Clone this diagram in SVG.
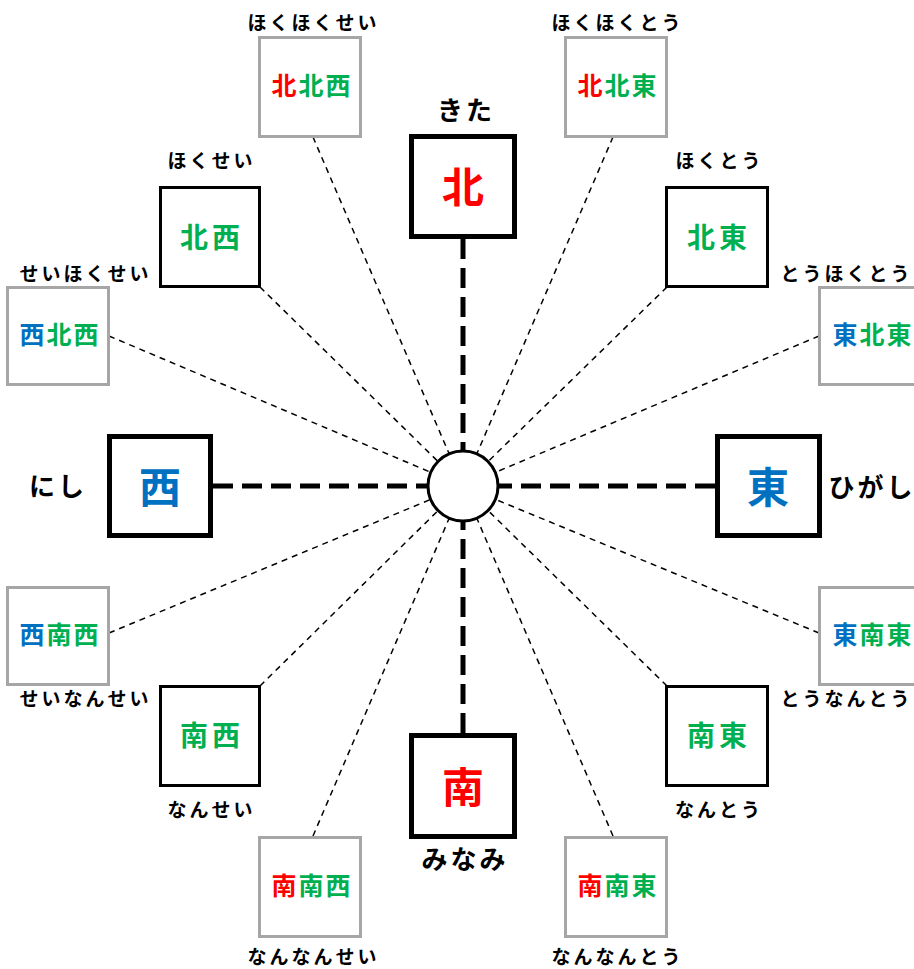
<svg xmlns="http://www.w3.org/2000/svg" width="914" height="969" viewBox="0 0 914 969">
<style>
text{font-family:"Noto Sans CJK JP","Noto Sans",sans-serif;font-weight:bold;text-anchor:middle;dominant-baseline:central}
.sm{font-size:19px;letter-spacing:3px;fill:#000}
.lg{font-size:26px;letter-spacing:3px;fill:#000}
.k3{font-size:25px;letter-spacing:2px}
.k2{font-size:28px;letter-spacing:4px}
.k1{font-size:42px}
.r{fill:#FF0000}.g{fill:#00B050}.b{fill:#0070C0}
.gray{fill:#fff;stroke:#A6A6A6;stroke-width:3}
.thin{fill:#fff;stroke:#000;stroke-width:3}
.card{fill:#fff;stroke:#000;stroke-width:5}
.dl{stroke:#000;stroke-width:1.5;stroke-dasharray:6 5;fill:none}
.tl{stroke:#000;stroke-width:5;stroke-dasharray:20 9;fill:none}
</style>
<rect width="914" height="969" fill="#fff"/>
<g id="connectors">
<line class="dl" x1="313" y1="137" x2="463" y2="486"/>
<line class="dl" x1="613" y1="137" x2="463" y2="486"/>
<line class="dl" x1="260" y1="287" x2="463" y2="486"/>
<line class="dl" x1="667" y1="287" x2="463" y2="486"/>
<line class="dl" x1="109" y1="336" x2="463" y2="486"/>
<line class="dl" x1="819" y1="336" x2="463" y2="486"/>
<line class="dl" x1="109" y1="633" x2="463" y2="486"/>
<line class="dl" x1="819" y1="633" x2="463" y2="486"/>
<line class="dl" x1="260" y1="686" x2="463" y2="486"/>
<line class="dl" x1="667" y1="686" x2="463" y2="486"/>
<line class="dl" x1="313" y1="836" x2="463" y2="486"/>
<line class="dl" x1="613" y1="836" x2="463" y2="486"/>
<line class="tl" x1="463" y1="239" x2="463" y2="486"/>
<line class="tl" x1="213" y1="486" x2="463" y2="486"/>
<line class="tl" x1="715" y1="486" x2="463" y2="486"/>
<line class="tl" x1="463" y1="733" x2="463" y2="486"/>
</g>
<g id="center"><circle cx="463" cy="486" r="35" fill="#fff" stroke="#000" stroke-width="3"/></g>
<g id="n">
<rect class="card" x="411.5" y="136.5" width="103" height="100"/>
<text class="k1 r" x="463" y="184">北</text>
<text class="lg" x="466" y="108">きた</text>
</g>
<g id="w">
<rect class="card" x="109.5" y="436.5" width="101" height="99"/>
<text class="k1 b" x="160" y="484">西</text>
<text class="lg" x="58" y="484">にし</text>
</g>
<g id="e">
<rect class="card" x="717.5" y="436.5" width="102" height="99"/>
<text class="k1 b" x="768" y="484">東</text>
<text class="lg" x="872" y="485">ひがし</text>
</g>
<g id="s">
<rect class="card" x="411.5" y="735.5" width="103" height="101"/>
<text class="k1 r" x="463" y="784">南</text>
<text class="lg" x="465" y="857">みなみ</text>
</g>
<g id="nw">
<rect class="thin" x="160.5" y="187.5" width="99" height="99"/>
<text class="k2 g" x="212" y="236">北西</text>
<text class="sm" x="211.5" y="159">ほくせい</text>
</g>
<g id="ne">
<rect class="thin" x="666.5" y="187.5" width="101" height="99"/>
<text class="k2 g" x="719" y="236">北東</text>
<text class="sm" x="719.5" y="159">ほくとう</text>
</g>
<g id="sw">
<rect class="thin" x="160.5" y="686.5" width="99" height="99"/>
<text class="k2 g" x="212" y="734">南西</text>
<text class="sm" x="211.5" y="808">なんせい</text>
</g>
<g id="se">
<rect class="thin" x="666.5" y="686.5" width="101" height="99"/>
<text class="k2 g" x="719" y="734">南東</text>
<text class="sm" x="719" y="808">なんとう</text>
</g>
<g id="nnw">
<rect class="gray" x="259.5" y="37.5" width="101" height="99"/>
<text class="k3" x="312" y="84"><tspan class="r">北</tspan><tspan class="g">北西</tspan></text>
<text class="sm" x="313.5" y="21">ほくほくせい</text>
</g>
<g id="nne">
<rect class="gray" x="565.5" y="37.5" width="101" height="99"/>
<text class="k3" x="618" y="84"><tspan class="r">北</tspan><tspan class="g">北東</tspan></text>
<text class="sm" x="617.5" y="21">ほくほくとう</text>
</g>
<g id="wnw">
<rect class="gray" x="7.5" y="287.5" width="101" height="97"/>
<text class="k3" x="60" y="333"><tspan class="b">西</tspan><tspan class="g">北西</tspan></text>
<text class="sm" x="85.5" y="272">せいほくせい</text>
</g>
<g id="ene">
<rect class="gray" x="819.5" y="287.5" width="101" height="97"/>
<text class="k3" x="873" y="333"><tspan class="b">東</tspan><tspan class="g">北東</tspan></text>
<text class="sm" x="846.5" y="272">とうほくとう</text>
</g>
<g id="wsw">
<rect class="gray" x="7.5" y="587.5" width="101" height="97"/>
<text class="k3" x="60" y="633"><tspan class="b">西</tspan><tspan class="g">南西</tspan></text>
<text class="sm" x="85.5" y="697">せいなんせい</text>
</g>
<g id="ese">
<rect class="gray" x="819.5" y="587.5" width="101" height="97"/>
<text class="k3" x="873" y="633"><tspan class="b">東</tspan><tspan class="g">南東</tspan></text>
<text class="sm" x="846.5" y="697">とうなんとう</text>
</g>
<g id="ssw">
<rect class="gray" x="259.5" y="837.5" width="101" height="99"/>
<text class="k3" x="312" y="884"><tspan class="r">南</tspan><tspan class="g">南西</tspan></text>
<text class="sm" x="313.5" y="955">なんなんせい</text>
</g>
<g id="sse">
<rect class="gray" x="565.5" y="837.5" width="101" height="99"/>
<text class="k3" x="618" y="884"><tspan class="r">南</tspan><tspan class="g">南東</tspan></text>
<text class="sm" x="617.5" y="955">なんなんとう</text>
</g>
</svg>
